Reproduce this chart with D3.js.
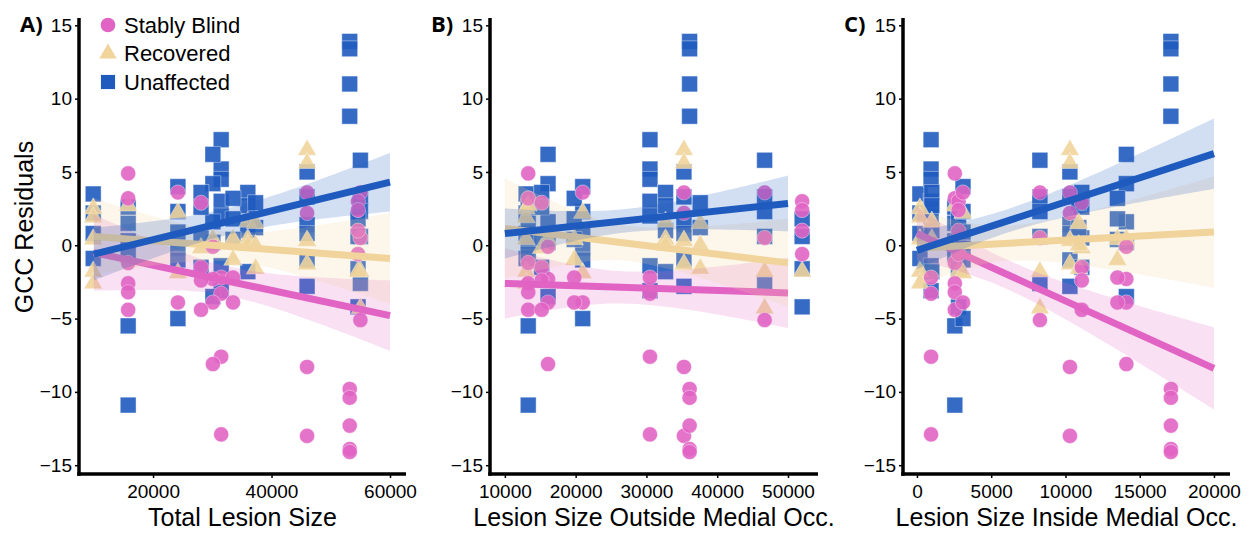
<!DOCTYPE html>
<html>
<head>
<meta charset="utf-8">
<script src="https://cdn.jsdelivr.net/npm/d3@7"></script>
<style>
  body { margin: 0; background: #fff; }
  svg { display: block; font-family: "Liberation Sans", Arial, sans-serif; }
</style>
</head>
<body>
<div id="chart"></div>
<script>
const groups = ["Stably Blind", "Recovered", "Unaffected"]
const groupColors = ["#E164C4", "#F0D49B", "#1F5BBF"]

// lesion sizes of each subject
const totalSize   = [9900, 15800, 31500, 30100, 46000, 53200, 55000, 54600, 24200, 28100, 36000, 33500, 37300]
const outsideSize = [13000, 13300, 30500, 16100, 35300, 36100, 46700, 52000, 21000, 15200, 32700, 19800, 37600]
const insideSize  = [200, 2550, 950, 14100, 10300, 17100, 8280, 2800, 3100, 11100, 1000, 13500, 10900]

// GCC residuals of each subject, split by group
const blindResid = [
  [],
  [4.9, 3.2, -1.2, -2.6, -3.2, -4.4],
  [-2.2, -3.3, -7.6, -12.9],
  [-0.1, -2.3, -3.9, -8.1],
  [3.6, 2.2, -8.3, -13.0],
  [-9.8, -10.4, -12.3, -13.9, -14.1],
  [3.6, 0.5, -5.1],
  [3.0, 2.4, 1.0, -0.6],
  [3.6, -3.9],
  [2.9, -1.5, -2.4, -4.4],
  [],
  [-2.2, -3.9],
  []
]
const recoveredResid = [
  [2.5, 1.9, 0.4, -1.8, -2.6],
  [2.7],
  [],
  [0.4],
  [6.5, 5.6, 0.3, -1.3],
  [],
  [-1.8, -4.3],
  [-1.8],
  [2.2, -1.9],
  [-0.2],
  [1.6, 0.4, 0.0],
  [0.4, -1.0],
  [1.5, 0.0, -1.6]
]
const unaffectedResid = [
  [3.5, 2.2, 0.8, -0.9],
  [2.6, 1.5, 0.3, -0.6, -5.5, -10.9],
  [7.2, 5.2, 4.5, 3.0, 2.0, -1.4, -3.1],
  [6.2, 4.2, 1.6, 0.2, -3.5],
  [5.0, 3.3, 1.4, 0.8, -1.0, -2.8],
  [13.9, 13.4, 11.0, 8.8],
  [5.8, 3.3, 2.3, 0.6, -2.6],
  [1.8, 0.6, -1.6, -4.2],
  [4.0, 2.3, 0.9, -0.2, -1.0, -5.0],
  [3.6, 2.6, 0.5, -1.5],
  [3.6, 2.7, 1.0, -1.8],
  [3.2, 1.8, 0.4],
  [2.9, 1.2]
]

// fitted lines (blind, recovered, unaffected) per panel
const fitRange  = [[10000, 60000], [10000, 50000], [0, 20000]]
const fitLeft   = [[-0.5, 0.6, -0.6], [-2.6, 1.15, 0.8], [0.8, -0.2, -0.35]]
const fitRight  = [[-4.8, -0.9, 4.3], [-3.25, -1.2, 2.85], [-8.4, 0.9, 6.25]]
const bandLeft  = [[2.6, 2.6, 1.8], [2.4, 3.4, 1.7], [1.8, 2.6, 1.3]]
const bandMin   = [[1.0, 1.0, 0.9], [1.1, 1.2, 0.8], [1.0, 1.2, 0.8]]
const bandRight = [[2.4, 3.1, 2.0], [2.4, 3.0, 1.9], [2.8, 3.8, 2.4]]
const bandMinAt = [33000, 27000, 6000]

const panelLabels = ["A)", "B)", "C)"]
const panelTitles = ["Total Lesion Size", "Lesion Size Outside Medial Occ.", "Lesion Size Inside Medial Occ."]
const panelTicks = [
  [20000, 40000, 60000],
  [10000, 20000, 30000, 40000, 50000],
  [0, 5000, 10000, 15000, 20000]
]
const yTicks = [-15, -10, -5, 0, 5, 10, 15]

const width = 1258, height = 533
const plotTop = 18, plotBottom = 474
const panelX = [[79, 406], [490, 818], [903, 1230]]
const panelDomain = [[7500, 62700], [7900, 54240], [-940, 21080]]
const sizes = [totalSize, outsideSize, insideSize]
const resid = [blindResid, recoveredResid, unaffectedResid]
const symbols = [d3.symbolCircle, d3.symbolTriangle, d3.symbolSquare]
const symbolArea = [180, 150, 250]

const svg = d3.select("#chart").append("svg")
    .attr("width", width)
    .attr("height", height)

const y = d3.scaleLinear([-15.6, 15.5], [plotBottom, plotTop])

function bandHalf(p, g, v) {
  const [x0, x1] = fitRange[p]
  const xm = bandMinAt[p]
  const h0 = bandMin[p][g]
  const edge = v < xm ? bandLeft[p][g] : bandRight[p][g]
  const t = (v - xm) / ((v < xm ? x0 : x1) - xm)
  return Math.sqrt(h0 * h0 + (edge * edge - h0 * h0) * t * t)
}

panelX.forEach(([left, right], p) => {
  const x = d3.scaleLinear(panelDomain[p], [left, right])
  const panel = svg.append("g")

  // points, unaffected first so the others sit on top
  const pts = []
  ;[2, 1, 0].forEach(g => {
    resid[g].forEach((vals, s) => vals.forEach(r => pts.push({g, x: sizes[p][s], r})))
  })
  panel.append("g")
    .selectAll("path")
    .data(pts)
    .join("path")
      .attr("transform", d => `translate(${x(d.x)},${y(d.r)})`)
      .attr("d", d => d3.symbol(symbols[d.g], symbolArea[d.g])())
      .attr("fill", d => groupColors[d.g])
      .attr("fill-opacity", 0.9)
      .attr("stroke", "#fff")
      .attr("stroke-opacity", 0.5)
      .attr("stroke-width", 0.8)

  // smooths: ribbon then line, group by group
  const [x0, x1] = fitRange[p]
  const xs = d3.range(61).map(i => x0 + (x1 - x0) * i / 60)
  groups.forEach((_, g) => {
    const fit = v => fitLeft[p][g] + (fitRight[p][g] - fitLeft[p][g]) * (v - x0) / (x1 - x0)
    panel.append("path")
      .datum(xs)
      .attr("fill", groupColors[g])
      .attr("fill-opacity", 0.2)
      .attr("d", d3.area()
        .x(v => x(v))
        .y0(v => y(fit(v) - bandHalf(p, g, v)))
        .y1(v => y(fit(v) + bandHalf(p, g, v))))
    panel.append("line")
      .attr("x1", x(x0)).attr("y1", y(fit(x0)))
      .attr("x2", x(x1)).attr("y2", y(fit(x1)))
      .attr("stroke", groupColors[g])
      .attr("stroke-width", 7)
  })

  // axes
  const xAxis = panel.append("g")
      .attr("transform", `translate(0,${plotBottom})`)
      .call(d3.axisBottom(x).tickValues(panelTicks[p]).tickFormat(d3.format("d"))
        .tickSize(4).tickSizeOuter(0).tickPadding(7))
  const yAxis = panel.append("g")
      .attr("transform", `translate(${left},0)`)
      .call(d3.axisLeft(y).tickValues(yTicks).tickFormat(d3.format("d"))
        .tickSize(4).tickSizeOuter(0).tickPadding(3))
  ;[xAxis, yAxis].forEach(a => {
    a.select(".domain").remove()
    a.selectAll(".tick line").attr("stroke", "#000").attr("stroke-width", 1.5)
    a.selectAll(".tick text").attr("font-size", 19).attr("fill", "#000")
      .attr("font-family", "'Liberation Sans', Arial, sans-serif")
  })
  panel.append("line")
    .attr("x1", left).attr("x2", left)
    .attr("y1", plotTop).attr("y2", plotBottom + 1.75)
    .attr("stroke", "#000").attr("stroke-width", 3.5)
  panel.append("line")
    .attr("x1", left - 1.75).attr("x2", right)
    .attr("y1", plotBottom).attr("y2", plotBottom)
    .attr("stroke", "#000").attr("stroke-width", 3.5)

  panel.append("text")
    .attr("x", (left + right) / 2)
    .attr("y", 526)
    .attr("text-anchor", "middle")
    .attr("font-size", 25)
    .attr("fill", "#000")
    .text(panelTitles[p])

  panel.append("text")
    .attr("x", left - 59)
    .attr("y", 32)
    .attr("font-family", "'Open Sans', sans-serif")
    .attr("font-weight", "bold")
    .attr("font-size", 22)
    .attr("fill", "#000")
    .text(panelLabels[p])
})

svg.append("text")
    .attr("transform", "translate(33,227) rotate(-90)")
    .attr("text-anchor", "middle")
    .attr("font-size", 25)
    .attr("fill", "#000")
    .text("GCC Residuals")

// legend inside panel A
const legend = svg.append("g")
  .selectAll("g")
  .data(groups)
  .join("g")
    .attr("transform", (d, i) => `translate(108,${25 + i * 28.5})`)
legend.append("path")
    .attr("d", (d, i) => d3.symbol(symbols[i], [170, 130, 200][i])())
    .attr("fill", (d, i) => groupColors[i])
legend.append("text")
    .attr("x", 16)
    .attr("dy", "0.35em")
    .attr("font-size", 22)
    .attr("fill", "#000")
    .text(d => d)
</script>
</body>
</html>
